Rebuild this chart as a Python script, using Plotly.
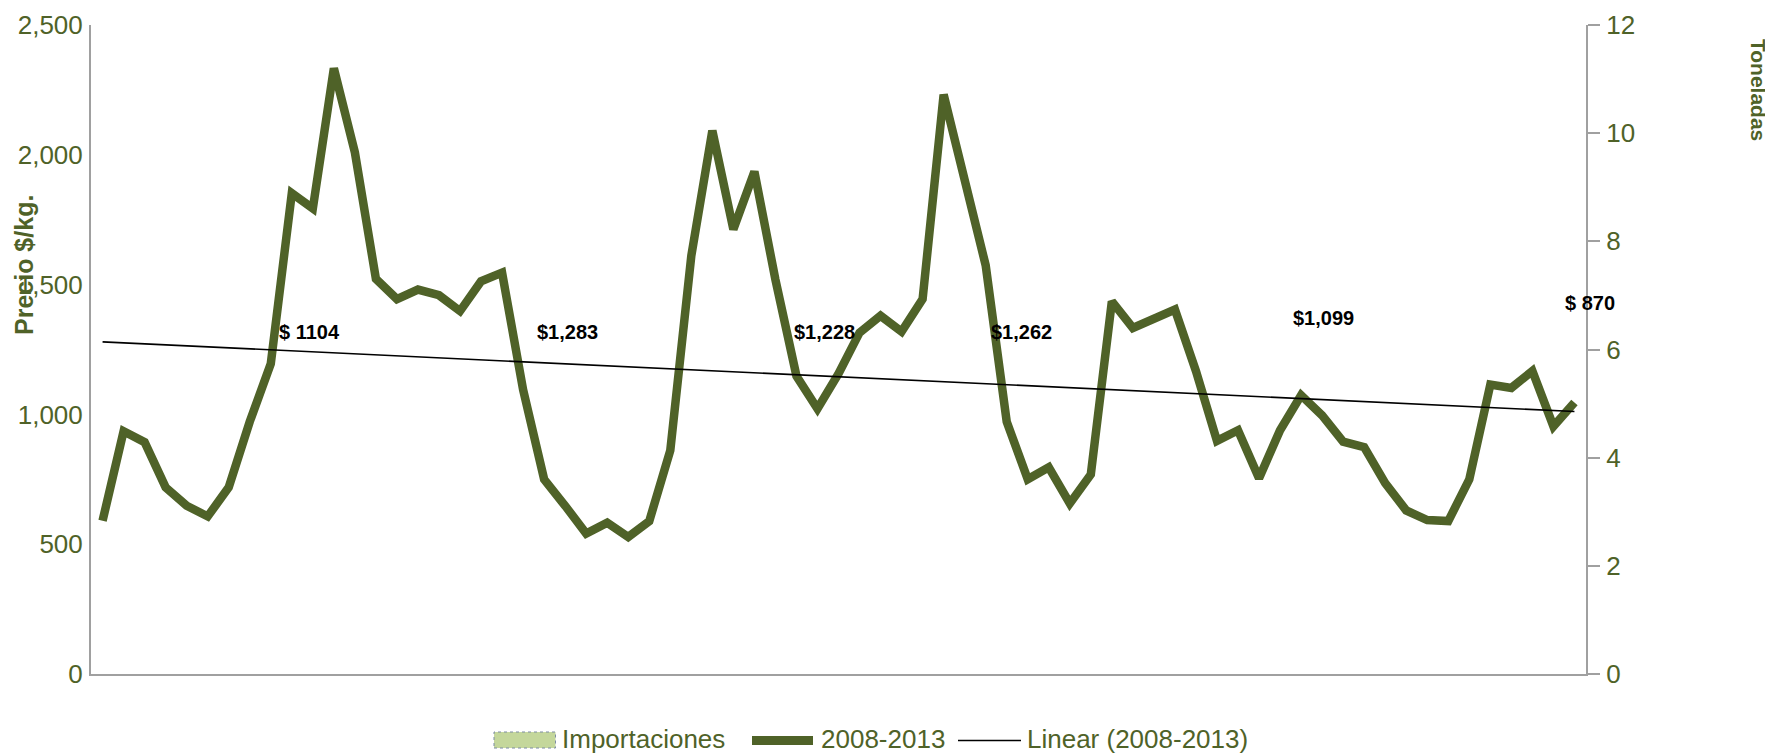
import numpy as np
import plotly.graph_objects as go

# ---- data ----
years = [2008, 2009, 2010, 2011, 2012, 2013]
month_names = ["Ene", "Feb", "Mar", "Abr", "May", "Jun", "Jul", "Ago", "Sep", "Oct", "Nov", "Dic"]
months = [f"{m} {y}" for y in years for m in month_names][:71]

precio = [590, 935, 893, 719, 648, 607, 719, 972, 1195, 1852,
          1793, 2333, 2009, 1522, 1444, 1481, 1459, 1398, 1513, 1546,
          1095, 750, 648, 541, 583, 528, 589, 861, 1611, 2093,
          1713, 1935, 1519, 1148, 1022, 1157, 1315, 1380, 1319, 1444,
          2232, 1917, 1574, 972, 750, 796, 657, 769, 1435, 1333,
          1367, 1404, 1167, 898, 939, 754, 939, 1074, 996, 895,
          874, 735, 630, 593, 589, 750, 1115, 1102, 1167, 954,
          1046]

importaciones = [None] * len(months)

labels_anual = ["$ 1104", "$1,283", "$1,228", "$1,262", "$1,099", "$ 870"]

OLIVE = "#4f6228"
GRAY = "#a0a0a0"
FONT = "Liberation Sans, Arial, sans-serif"

idx = np.arange(len(precio))
coef = np.polyfit(idx, np.array(precio, dtype=float), 1)
trend = np.polyval(coef, idx)

fig = go.Figure()
fig.add_trace(go.Bar(x=months, y=importaciones, name="Importaciones", yaxis="y2",
                     marker=dict(color="#c4d79b"), showlegend=False))
fig.add_trace(go.Scatter(x=months, y=precio, name="2008-2013", mode="lines",
                         line=dict(color=OLIVE, width=8.5), showlegend=False))
fig.add_trace(go.Scatter(x=months, y=trend, name="Linear (2008-2013)", mode="lines",
                         line=dict(color="black", width=1.6), showlegend=False))

# ---- layout geometry (pixels); page body has an 8px margin ----
OFF = 8
W_FIG, H_FIG = 1773 - OFF, 753 - OFF
L, R, T, B = 83, 187, 17, 79
PW = W_FIG - L - R
PH = H_FIG - T - B


def px(x):
    return (x - OFF - L) / PW


def py(y):
    return (H_FIG - B - (y - OFF)) / PH


annotations = []
# yearly price labels
lab_pos = [(309.5, 332), (567, 332), (824, 332), (1021, 332), (1323, 318), (1589.5, 302.5)]
for text, (xp, yp) in zip(labels_anual, lab_pos):
    annotations.append(dict(x=px(xp), y=py(yp), xref="paper", yref="paper", text=text,
                            xanchor="center", yanchor="middle", showarrow=False,
                            font=dict(family=FONT, size=20, color="black", weight="bold")))

# axis titles
annotations.append(dict(x=px(24), y=py(265), xref="paper", yref="paper", text="Precio $/kg.",
                        textangle=-90, showarrow=False, xanchor="center", yanchor="middle",
                        font=dict(family=FONT, size=25, color=OLIVE, weight="bold")))
annotations.append(dict(x=px(1759), y=py(90), xref="paper", yref="paper", text="Toneladas",
                        textangle=90, showarrow=False, xanchor="center", yanchor="middle",
                        font=dict(family=FONT, size=21, color=OLIVE, weight="bold")))

# custom legend
shapes = []
LEG_Y = 740.5
shapes.append(dict(type="rect", xref="paper", yref="paper",
                   x0=px(494), x1=px(555.5), y0=py(748), y1=py(732),
                   fillcolor="#c4d79b", line=dict(color="#7d8ca3", width=1, dash="dot")))
shapes.append(dict(type="line", xref="paper", yref="paper",
                   x0=px(752), x1=px(813), y0=py(LEG_Y), y1=py(LEG_Y),
                   line=dict(color=OLIVE, width=9)))
shapes.append(dict(type="line", xref="paper", yref="paper",
                   x0=px(958), x1=px(1021), y0=py(LEG_Y), y1=py(LEG_Y),
                   line=dict(color="black", width=1.6)))
for text, xl in [("Importaciones", 560), ("2008-2013", 819), ("Linear (2008-2013)", 1025)]:
    annotations.append(dict(x=px(xl), y=py(LEG_Y - 1.5), xref="paper", yref="paper", text=text,
                            xanchor="left", yanchor="middle", showarrow=False,
                            font=dict(family=FONT, size=26, color=OLIVE)))

fig.update_layout(
    width=W_FIG, height=H_FIG,
    margin=dict(l=L, r=R, t=T, b=B, autoexpand=False),
    plot_bgcolor="white", paper_bgcolor="white",
    showlegend=False,
    font=dict(family=FONT, color=OLIVE),
    xaxis=dict(type="category", range=[-0.55, 70.55], showticklabels=False, ticks="",
               automargin=False,
               showgrid=False, zeroline=False, showline=True, linecolor=GRAY, linewidth=2),
    yaxis=dict(range=[0, 2500], dtick=500, tickformat=",", showgrid=False, zeroline=False,
               automargin=False,
               showline=True, linecolor=GRAY, linewidth=2, ticks="",
               ticklabelstandoff=1,
               tickfont=dict(family=FONT, size=26, color=OLIVE)),
    yaxis2=dict(range=[0, 12], dtick=2, overlaying="y", side="right", showgrid=False,
                automargin=False,
                zeroline=False, showline=True, linecolor=GRAY, linewidth=2,
                ticks="outside", ticklen=12, tickwidth=2, tickcolor=GRAY,
                ticklabelstandoff=1,
                tickfont=dict(family=FONT, size=26, color=OLIVE)),
    annotations=annotations,
    shapes=shapes,
)

fig.write_html("out.html")
